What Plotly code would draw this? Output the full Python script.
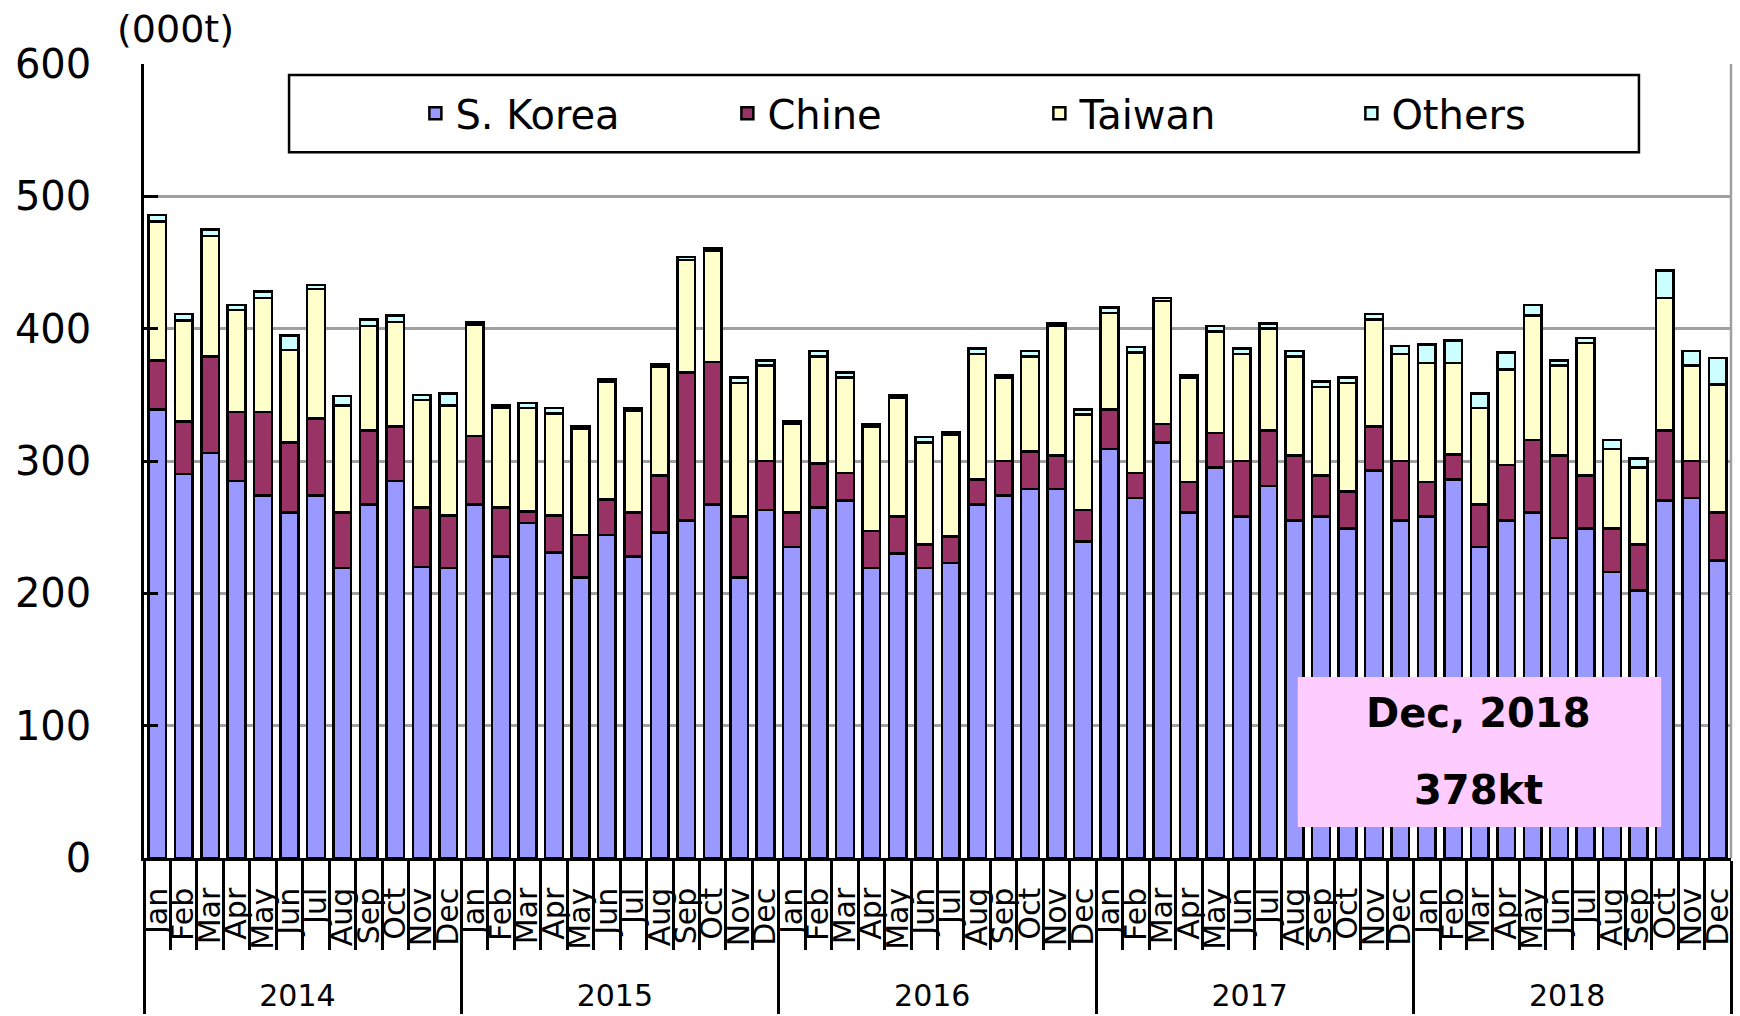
import plotly.graph_objects as go

# Monthly imports (000t) by origin, 2014-2018
years = ["2014", "2015", "2016", "2017", "2018"]
months = ["Jan", "Feb", "Mar", "Apr", "May", "Jun",
          "Jul", "Aug", "Sep", "Oct", "Nov", "Dec"]

s_korea = [
    339, 290, 306, 285, 274, 261, 274, 219, 267, 285, 220, 219,
    267, 228, 253, 231, 212, 244, 228, 246, 255, 267, 212, 263,
    235, 265, 270, 219, 230, 219, 223, 267, 274, 279, 279, 239,
    309, 272, 314, 261, 295, 258, 281, 255, 258, 249, 293, 255,
    258, 286, 235, 255, 261, 242, 249, 216, 202, 270, 272, 225,
]
china = [
    37, 40, 73, 52, 63, 53, 58, 42, 56, 41, 45, 40,
    52, 37, 9, 28, 32, 27, 33, 43, 112, 108, 46, 37,
    26, 33, 21, 28, 28, 18, 20, 19, 26, 28, 25, 24,
    30, 19, 14, 23, 26, 42, 42, 49, 31, 28, 33, 45,
    26, 19, 32, 42, 55, 62, 40, 33, 35, 53, 28, 36,
]
taiwan = [
    105, 76, 91, 77, 86, 70, 98, 81, 79, 79, 81, 83,
    84, 75, 78, 77, 80, 89, 77, 82, 85, 84, 101, 72,
    67, 81, 72, 79, 90, 77, 77, 95, 63, 72, 98, 72,
    73, 91, 93, 79, 77, 81, 77, 75, 67, 82, 81, 81,
    90, 69, 73, 72, 94, 68, 100, 60, 58, 100, 72, 97,
]
others = [
    5, 5, 5, 4, 5, 11, 3, 7, 5, 5, 4, 9,
    2, 2, 4, 4, 2, 2, 2, 2, 2, 2, 4, 4,
    2, 4, 4, 2, 2, 4, 2, 4, 2, 4, 2, 4,
    4, 4, 2, 2, 4, 4, 4, 4, 4, 4, 4, 6,
    14, 17, 11, 13, 8, 4, 4, 7, 7, 21, 11, 20,
]

series = [
    ("S. Korea", s_korea, "#9999FF"),
    ("Chine", china, "#993366"),
    ("Taiwan", taiwan, "#FFFFCC"),
    ("Others", others, "#CCFFFF"),
]

FONT = "DejaVu Sans"
# rotated month labels hang from the axis; a trailing en space keeps them off the axis line
month_ticks = [m + "\u2002" for m in months]
x_cat = [[y for y in years for _ in months], [m for _ in years for m in month_ticks]]
n = len(x_cat[0])

fig = go.Figure()
for name, vals, color in series:
    fig.add_trace(go.Bar(
        x=x_cat, y=vals, name=name,
        marker=dict(color=color, line=dict(color="black", width=2.5)),
    ))

latest_total = s_korea[-1] + china[-1] + taiwan[-1] + others[-1]
latest_label = f"{months[-1]}, {years[-1]}"

fig.update_layout(
    width=1740, height=1016,
    margin=dict(l=144, r=9, t=64, b=158),
    paper_bgcolor="white", plot_bgcolor="white",
    font=dict(family=FONT, color="black"),
    barmode="stack", bargap=0.33,
    showlegend=True,
    legend=dict(
        orientation="h", x=0.171, xanchor="left", y=0.979, yanchor="top",
        font=dict(size=40, family=FONT), traceorder="normal",
        entrywidth=267, bgcolor="rgba(0,0,0,0)", borderwidth=0,
    ),
    xaxis=dict(
        type="multicategory", range=[-0.5, n - 0.5], automargin=False,
        tickmode="linear", tick0=0, dtick=1,
        showline=True, linecolor="black", linewidth=2.5,
        # boundary ticks act as the month separators
        ticks="outside", ticklen=89, tickwidth=2.5, tickcolor="black",
        tickangle=-90, tickfont=dict(size=30, family=FONT),
        showdividers=True, dividercolor="black", dividerwidth=2.5,
        showgrid=False,
    ),
    yaxis=dict(
        range=[0, 600], dtick=100, tickmode="linear", automargin=False,
        showgrid=True, gridcolor="#A0A0A0", gridwidth=2.5,
        showline=True, linecolor="black", linewidth=2.5,
        ticks="inside", ticklen=14, tickwidth=2.5, tickcolor="black",
        tickfont=dict(size=40, family=FONT), zeroline=False,
        ticklabelstandoff=42,
    ),
    shapes=[
        # plot-area right border
        dict(type="line", xref="paper", yref="paper", x0=1, x1=1, y0=0, y1=1,
             line=dict(color="#A0A0A0", width=2.5)),
        # legend frame
        dict(type="rect", xref="paper", yref="paper",
             x0=0.0914, x1=0.9420, y0=0.889, y1=0.986,
             fillcolor="white", line=dict(color="black", width=2.5)),
        # highlight box
        dict(type="rect", xref="paper", yref="paper",
             x0=0.727, x1=0.956, y0=0.039, y1=0.228,
             fillcolor="#FFCCFF", line=dict(width=0)),
    ],
    annotations=[
        dict(text="(000t)", xref="paper", yref="paper", x=0.02, y=1.044,
             xanchor="center", yanchor="middle", showarrow=False,
             font=dict(size=38, family=FONT)),
        dict(text=f"<b>{latest_label}</b>", xref="paper", yref="paper",
             x=0.841, y=0.182, xanchor="center", yanchor="middle",
             showarrow=False, font=dict(size=40, family=FONT)),
        dict(text=f"<b>{latest_total}kt</b>", xref="paper", yref="paper",
             x=0.841, y=0.0856, xanchor="center", yanchor="middle",
             showarrow=False, font=dict(size=40, family=FONT)),
    ],
)

fig.write_html("out.html")
